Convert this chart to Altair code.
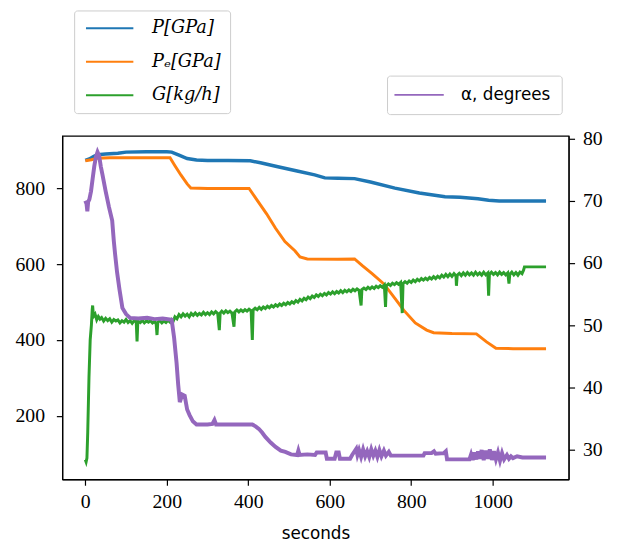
import altair as alt
import pandas as pd

# ---- data ----
P_t = [0, 10, 20, 30, 50, 80, 100, 150, 200, 212, 230, 250, 273, 300, 350, 405, 430, 470, 520, 563,
       588, 620, 661, 700, 760, 820, 883, 920, 964, 990, 1016, 1080, 1131]
P_v = [874, 878, 884, 889, 891, 893, 896, 897, 897, 896, 888, 879, 875, 874, 874, 873, 868, 858, 846, 836,
       828, 827, 826, 817, 801, 788, 778, 777, 773, 769, 767, 767, 767]

Pe_t = [0, 15, 30, 60, 100, 150, 208, 220, 235, 250, 259, 300, 350, 402, 420, 445, 467, 490, 515, 527, 545,
        620, 661, 680, 704, 733, 760, 782, 810, 838, 855, 900, 960, 985, 1008, 1050, 1131]
Pe_v = [873, 876, 880, 881, 881, 881, 881, 860, 835, 812, 801, 800, 800, 800, 772, 733, 695, 660, 635, 619, 614,
        613, 614, 596, 575, 548, 510, 478, 445, 426, 419, 417, 416, 395, 378, 377, 377]

G_t = [0, 2, 4, 6, 9, 12, 15, 17, 18, 20, 24, 28, 32, 36, 40, 45, 50, 55, 60, 65, 70, 75, 80, 85, 90, 95, 100,
       105, 110, 115, 120, 125, 127, 129, 135, 140, 145, 150, 155, 160, 165, 170, 174, 176, 178, 183, 188, 193,
       198, 203, 208, 212, 216, 220, 225, 230, 235, 240, 245, 250, 255, 260, 265, 270, 275, 280, 285, 290, 295,
       300, 305, 310, 315, 320, 325, 329, 331, 335, 340, 345, 350, 355, 360, 365, 367, 372, 377, 382, 387, 392,
       397, 402, 407, 410, 412, 417, 422, 427, 432, 437, 442, 447, 452, 457, 462, 467, 472, 477, 482, 487, 492,
       497, 502, 507, 512, 517, 522, 527, 532, 537, 542, 547, 552, 557, 562, 567, 572, 577, 582, 587, 592, 597,
       602, 607, 612, 617, 622, 627, 632, 637, 642, 647, 652, 657, 662, 667, 672, 677, 679, 684, 689, 694, 699,
       704, 709, 714, 719, 724, 729, 734, 737, 739, 744, 749, 754, 759, 764, 769, 774, 778, 780, 785, 790, 795,
       800, 805, 810, 815, 820, 825, 830, 835, 840, 845, 850, 855, 860, 865, 870, 875, 880, 885, 890, 895, 900,
       905, 910, 911, 913, 918, 923, 928, 933, 938, 943, 948, 953, 958, 963, 968, 973, 978, 983, 988, 990, 992,
       997, 1002, 1007, 1012, 1017, 1022, 1027, 1032, 1037, 1040, 1042, 1047, 1052, 1057, 1062, 1067, 1072,
       1076, 1078, 1090, 1110, 1131]
G_v = [84, 78, 88, 157, 300, 400, 440, 480, 491, 462, 468, 453, 462, 455, 459, 450, 457, 451, 456, 447, 454, 450,
       453, 445, 451, 447, 454, 446, 451, 444, 451, 448, 396, 450, 446, 452, 445, 450, 447, 451, 445, 449, 442,
       413, 447, 451, 445, 450, 446, 452, 447, 454, 450, 461, 456, 467, 461, 469, 463, 468, 461, 470, 465, 471,
       465, 470, 466, 473, 467, 472, 467, 474, 469, 475, 470, 426, 471, 476, 471, 477, 472, 476, 471, 435, 474,
       479, 474, 479, 475, 480, 476, 481, 477, 400, 479, 484, 480, 486, 481, 487, 483, 489, 485, 491, 487, 493,
       489, 495, 491, 497, 493, 499, 495, 501, 497, 504, 500, 507, 503, 510, 506, 513, 509, 516, 512, 519, 515,
       521, 517, 523, 519, 525, 521, 527, 522, 528, 524, 530, 525, 531, 527, 532, 528, 534, 530, 535, 531, 491,
       533, 537, 533, 539, 535, 540, 536, 542, 538, 543, 539, 545, 487, 543, 548, 544, 550, 546, 551, 547, 552,
       471, 549, 554, 550, 556, 552, 558, 554, 560, 556, 562, 558, 563, 559, 565, 561, 567, 562, 568, 564, 571,
       566, 573, 567, 574, 568, 575, 569, 543, 571, 576, 570, 577, 571, 578, 572, 577, 571, 579, 572, 577, 571,
       579, 572, 577, 517, 573, 579, 573, 578, 572, 579, 573, 578, 572, 577, 549, 573, 579, 572, 578, 571, 579,
       575, 585, 593, 593, 593, 593]

A_t = [0, 3, 5, 7, 10, 14, 18, 22, 26, 30, 34, 38, 42, 50, 58, 66, 70, 73, 78, 84, 91, 100, 110, 130, 152, 170,
       190, 212, 218, 224, 228, 232, 238, 244, 250, 256, 264, 273, 300, 312, 317, 321, 350, 380, 410, 418, 426,
       434, 442, 455, 467, 480, 491, 505, 520, 523, 526, 545, 564, 568, 590, 593, 612, 616, 622, 625, 650, 655,
       665, 668, 672, 677, 682, 687, 692, 697, 702, 707, 712, 717, 722, 727, 733, 738, 745, 750, 758, 800, 830,
       833, 850, 856, 860, 880, 885, 888, 920, 943, 947, 951, 955, 960, 964, 968, 973, 978, 983, 988, 993, 998,
       1003, 1008, 1013, 1018, 1023, 1028, 1035, 1040, 1045, 1050, 1060, 1073, 1100, 1131]
A_v = [70, 69.5, 68.3, 69.8, 70.2, 71.5, 73.5, 75.5, 77, 77.8, 77.2, 75.5, 74.2, 71.5, 69, 66.8, 63.5, 61.5, 58.5,
       55.7, 52.8, 51.8, 51.2, 51.1, 51.2, 51, 51.1, 50.9, 48, 44, 40.5, 37.7, 38.9, 38.7, 36.5, 35.6, 34.6, 34.1,
       34.1, 34.2, 34.8, 34.1, 34.1, 34.1, 34.1, 33.8, 33.4, 32.8, 32.1, 31.2, 30.5, 29.9, 29.7, 29.3, 29.2, 29.9,
       29.2, 29.3, 29.2, 29.6, 29.6, 28.6, 28.6, 29.6, 29.6, 28.6, 28.6, 29.2, 30.2, 29.2, 30.0, 28.9, 30.1, 29.0,
       29.8, 28.9, 30.1, 29.1, 29.9, 28.9, 30.0, 29.0, 29.9, 29.1, 29.7, 29.1, 29.1, 29.1, 29.1, 29.5, 29.5, 29.8,
       29.4, 29.5, 29.8, 28.5, 28.5, 28.5, 29.3, 28.4, 29.6, 28.5, 29.8, 28.6, 30.0, 28.4, 29.9, 28.6, 30.1, 28.4,
       29.8, 28.5, 29.6, 28.3, 29.5, 28.5, 29.2, 28.6, 29.0, 28.7, 29.0, 28.8, 28.8, 28.8]

left_names = ["P[GPa]", "P\u2091[GPa]", "G[kg/h]"]
left_colors = ["#1f77b4", "#ff7f0e", "#2ca02c"]
right_names = ["\u03b1, degrees"]
right_colors = ["#9467bd"]

x_ticks = [0, 200, 400, 600, 800, 1000]
yl_ticks = [200, 400, 600, 800]
yr_ticks = [30, 40, 50, 60, 70, 80]


def frame(ts, vs, name):
    return pd.DataFrame({"t": ts, "v": vs, "series": name})


serif = "'Liberation Serif', 'Times New Roman', Times, serif"
serif_it = "'DejaVu Serif', 'Liberation Serif', serif"
tick_fs = 20

x_enc = alt.X("t:Q",
              scale=alt.Scale(domain=[-56.5, 1186.5], nice=False, zero=False),
              axis=alt.Axis(values=x_ticks, format="d", title="seconds",
                            titleFont="DejaVu Sans", titleFontSize=17, titleFontWeight="normal",
                            titleColor="black", titlePadding=14,
                            labelFont=serif, labelFontSize=tick_fs, labelPadding=7,
                            tickSize=6))

yl_enc = alt.Y("v:Q",
               scale=alt.Scale(domain=[32, 939], nice=False, zero=False),
               axis=alt.Axis(values=yl_ticks, format="d", title=None, orient="left",
                             labelFont=serif, labelFontSize=tick_fs, labelPadding=12, tickSize=6))

yr_enc = alt.Y("v:Q",
               scale=alt.Scale(domain=[25.3, 80.4], nice=False, zero=False),
               axis=alt.Axis(values=yr_ticks, format="d", title=None, orient="right",
                             labelFont=serif, labelFontSize=tick_fs, labelPadding=8, tickSize=6))

left_color = alt.Color("series:N",
                       scale=alt.Scale(domain=left_names, range=left_colors),
                       legend=alt.Legend(title=None, orient="none", legendX=12, legendY=-127,
                                         symbolType="M-4,0H4", symbolSize=144, symbolStrokeWidth=2,
                                         symbolOffset=18,
                                         labelFont=serif_it, labelFontStyle="italic",
                                         labelFontSize=18, labelOffset=34, rowPadding=16,
                                         padding=9, strokeColor="#cccccc", fillColor="white",
                                         cornerRadius=3, labelColor="black"))

right_color = alt.Color("series:N",
                        scale=alt.Scale(domain=right_names, range=right_colors),
                        legend=alt.Legend(title=None, orient="none", legendX=329, legendY=-61,
                                          symbolType="M-4,0H4", symbolSize=156, symbolStrokeWidth=2,
                                          symbolOffset=13,
                                          labelFont="DejaVu Sans", labelFontSize=17, labelOffset=34,
                                          padding=11, strokeColor="#cccccc", fillColor="white",
                                          cornerRadius=3, labelColor="black"))

lineP = alt.Chart(frame(P_t, P_v, left_names[0])).mark_line(strokeWidth=3.5).encode(
    x=x_enc, y=yl_enc, color=left_color)
linePe = alt.Chart(frame(Pe_t, Pe_v, left_names[1])).mark_line(strokeWidth=3).encode(
    x=x_enc, y=yl_enc, color=left_color)
lineG = alt.Chart(frame(G_t, G_v, left_names[2])).mark_line(strokeWidth=3).encode(
    x=x_enc, y=yl_enc, color=left_color)
left = alt.layer(lineP, linePe, lineG)

lineA = alt.Chart(frame(A_t, A_v, right_names[0])).mark_line(strokeWidth=4).encode(
    x=x_enc, y=yr_enc, color=right_color)

chart = alt.layer(left, lineA).resolve_scale(y="independent", color="independent").properties(
    width=513, height=348,
    autosize=alt.AutoSizeParams(type="none"),
    padding={"left": 55, "top": 126, "right": 50, "bottom": 60},
).configure_view(stroke="black", strokeWidth=1.2).configure_axis(
    grid=False, domainColor="black", domainWidth=1.2, tickColor="black", tickWidth=1.2,
    labelColor="black", labelFont=serif, labelFontSize=tick_fs)

chart.save("out.html", embed_options={"renderer": "svg", "actions": False})
